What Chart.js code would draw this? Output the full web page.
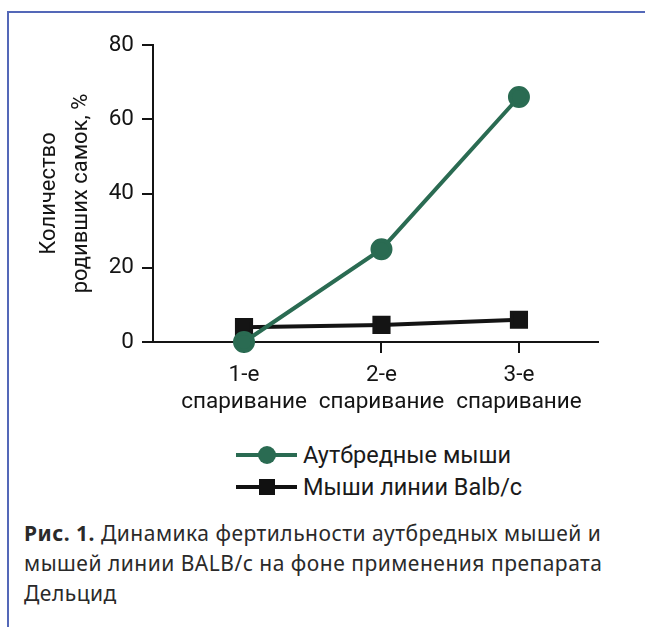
<html>
<head>
<meta charset="utf-8">
<script src="https://cdn.jsdelivr.net/npm/chart.js@4.4.1/dist/chart.umd.min.js"></script>
<style>
  body { margin: 0; background: #fff; width: 645px; height: 627px; overflow: hidden; position: relative; }
  .frame { position: absolute; left: 7px; top: 11px; right: -5px; bottom: -5px; border-top: 2px solid #5468b8; border-left: 2px solid #5468b8; }
  #wrap { position: absolute; left: 0; top: 0; width: 645px; height: 430px; }
  .legend { position: absolute; left: 236px; top: 439px; font: 23.5px Roboto, sans-serif; color: #1a1a1a; }
  .legend .row { position: relative; height: 32px; line-height: 32px; padding-left: 67px; white-space: nowrap; }
  .legend .ln { position: absolute; left: 0; top: 14px; width: 61px; height: 4px; }
  .legend .mk { position: absolute; }
  .caption { position: absolute; left: 24px; top: 518px; font: 21px "Noto Sans", sans-serif; line-height: 30px; color: #2a2a2a; letter-spacing: 0.5px; white-space: nowrap; }
</style>
</head>
<body>
<div class="frame"></div>
<div id="wrap"><canvas id="chart" width="645" height="430"></canvas></div>
<div class="legend">
  <div class="row"><span class="ln" style="background:#2a6b52"></span><span class="mk" style="left:22px;top:7px;width:18px;height:18px;border-radius:50%;background:#2a6b52"></span><span id="lg0"></span></div>
  <div class="row"><span class="ln" style="background:#111"></span><span class="mk" style="left:23px;top:8px;width:16px;height:16px;background:#111"></span><span id="lg1"></span></div>
</div>
<div class="caption"><b>Рис. 1.</b> Динамика фертильности аутбредных мышей и<br>мышей линии BALB/c на фоне применения препарата<br>Дельцид</div>
<script>
var categories = [['1-е', 'спаривание'], ['2-е', 'спаривание'], ['3-е', 'спаривание']];
var seriesNames = ['Аутбредные мыши', 'Мыши линии Balb/c'];
var outbred = [0, 25, 66];
var balbc = [4, 4.6, 6];
var yTicks = [0, 20, 40, 60, 80];

document.getElementById('lg0').textContent = seriesNames[0];
document.getElementById('lg1').textContent = seriesNames[1];

function pts(arr) {
  return arr.map(function(v, i) { return { x: i + 1, y: v }; });
}

var ink = '#141414';
var font = { family: 'Roboto', size: 22.5 };

new Chart(document.getElementById('chart'), {
  type: 'line',
  data: {
    datasets: [{
      label: seriesNames[0],
      data: pts(outbred),
      borderColor: '#2a6b52',
      backgroundColor: '#2a6b52',
      borderWidth: 4,
      pointStyle: 'circle',
      pointRadius: 9,
      clip: false
    }, {
      label: seriesNames[1],
      data: pts(balbc),
      borderColor: ink,
      backgroundColor: ink,
      borderWidth: 4,
      pointStyle: 'rect',
      pointRadius: 10,
      clip: false
    }]
  },
  options: {
    responsive: false,
    animation: false,
    layout: { padding: { left: 34, top: 45, right: 47, bottom: 0 } },
    plugins: { legend: { display: false }, tooltip: { enabled: false } },
    scales: {
      x: {
        type: 'linear',
        min: 0.338,
        max: 3.575,
        afterBuildTicks: function(s) { s.ticks = [{ value: 1 }, { value: 2 }, { value: 3 }]; },
        afterFit: function(s) { s.height = 88; },
        ticks: {
          color: ink,
          font: font,
          padding: 9,
          maxRotation: 0,
          callback: function(v) { return categories[v - 1]; }
        },
        grid: { drawOnChartArea: false, drawTicks: true, tickLength: 11, color: ink, lineWidth: 2 },
        border: { color: ink, width: 2 }
      },
      y: {
        min: 0,
        max: 80,
        afterBuildTicks: function(s) { s.ticks = yTicks.map(function(v) { return { value: v }; }); },
        afterFit: function(s) { s.width = 119; },
        ticks: { color: ink, font: font, padding: 8 },
        grid: { drawOnChartArea: false, drawTicks: true, tickLength: 11, color: ink, lineWidth: 2 },
        border: { color: ink, width: 2 },
        title: {
          display: true,
          text: ['Количество', 'родивших самок, %'],
          color: ink,
          font: { family: 'Roboto', size: 22, lineHeight: 1.45 },
          padding: { top: 0, bottom: 0 }
        }
      }
    }
  }
});
</script>
</body>
</html>
